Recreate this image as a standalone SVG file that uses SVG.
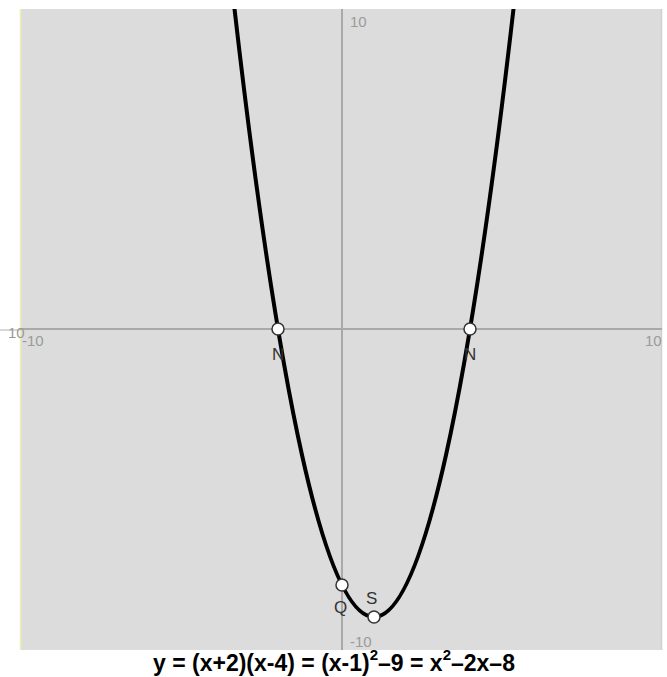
<svg xmlns="http://www.w3.org/2000/svg" width="667" height="677" viewBox="0 0 667 677">
<style>
.ax{stroke:#a9a9a9;stroke-width:2;fill:none}
.lab{font-family:"Liberation Sans",Arial,sans-serif;font-size:15px;fill:#9a9a9a}
.pl{font-family:"Liberation Sans",Arial,sans-serif;font-size:17px;fill:#333}
.pt{fill:#fff;stroke:#333;stroke-width:1.5}
.eq{font-family:"Liberation Sans",Arial,sans-serif;font-size:23px;font-weight:bold;fill:#000}
</style>
<defs><clipPath id="plot"><rect x="20" y="9" width="642" height="641"/></clipPath></defs>
<rect width="667" height="677" fill="#fff"/>
<g id="plot-area">
<rect x="20" y="9" width="642" height="641" fill="#dcdcdc"/>
<line x1="20.5" y1="9" x2="20.5" y2="650" stroke="#f0efb0" stroke-width="1.5"/>
<line x1="661.5" y1="9" x2="661.5" y2="650" stroke="#cfcfcf" stroke-width="1.5"/>
</g>
<g id="connectors">
<line class="ax" x1="20" y1="329" x2="662" y2="329"/>
<line class="ax" x1="342" y1="9" x2="342" y2="650"/>
<line x1="0" y1="330" x2="20" y2="330" stroke="#b0b0b0" stroke-width="1"/>
<path d="M230,-31 Q374,1265 518,-31" fill="none" stroke="#000" stroke-width="4" clip-path="url(#plot)"/>
</g>
<g id="axis-labels">
<text class="lab" x="350" y="27">10</text>
<text class="lab" x="22" y="346">-10</text>
<text class="lab" x="645" y="346">10</text>
<text class="lab" x="350" y="647" font-size="12">-10</text>
<text class="lab" x="8" y="338" font-size="8">10</text>
</g>
<g id="node-N1"><circle class="pt" cx="278" cy="329" r="6"/><text class="pl" x="272" y="360">N</text></g>
<g id="node-N2"><circle class="pt" cx="470" cy="329" r="6"/><text class="pl" x="464" y="360">N</text></g>
<g id="node-Q"><circle class="pt" cx="342" cy="585" r="6"/><text class="pl" x="334" y="613">Q</text></g>
<g id="node-S"><circle class="pt" cx="374" cy="617" r="6"/><text class="pl" x="366" y="604">S</text></g>
<text class="eq" x="334" y="671" text-anchor="middle">y = (x+2)(x-4) = (x-1)<tspan font-size="15" dy="-11">2</tspan><tspan dy="11">–9 = x</tspan><tspan font-size="15" dy="-11">2</tspan><tspan dy="11">–2x–8</tspan></text>
</svg>
